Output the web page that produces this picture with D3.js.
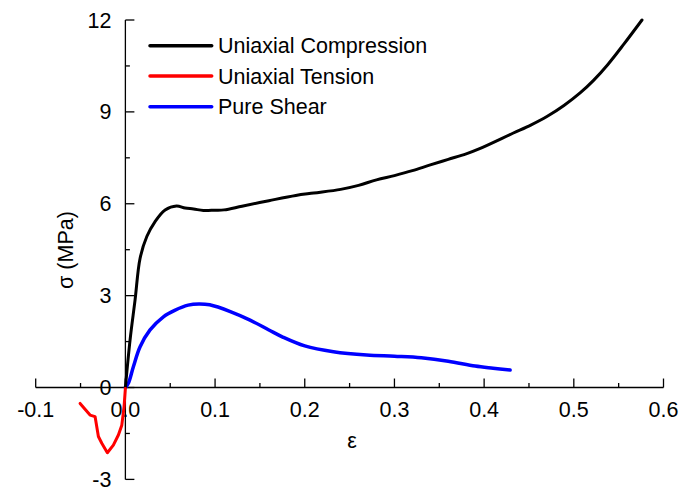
<!DOCTYPE html>
<html><head><meta charset="utf-8">
<script src="https://cdn.jsdelivr.net/npm/d3@7"></script>
<style>html,body{margin:0;padding:0;background:#fff;}svg{display:block;}</style>
</head><body>
<svg id="c" width="695" height="493"></svg>
<script>
const compStrain = [0, 0.0052, 0.0108, 0.0164, 0.0239, 0.0331, 0.0443, 0.057, 0.0666, 0.076, 0.087, 0.1, 0.11, 0.13, 0.16, 0.19, 0.21, 0.24, 0.26, 0.28, 0.30, 0.32, 0.34, 0.36, 0.38, 0.395, 0.4326, 0.452, 0.47, 0.489, 0.507, 0.522, 0.538, 0.556, 0.576];
const compStress = [0, 1.55, 2.86, 4.22, 4.93, 5.42, 5.8, 5.93, 5.86, 5.83, 5.78, 5.79, 5.80, 5.92, 6.1, 6.27, 6.35, 6.47, 6.6, 6.78, 6.92, 7.08, 7.27, 7.45, 7.63, 7.8, 8.31, 8.57, 8.85, 9.21, 9.62, 10.03, 10.55, 11.22, 12.0];
const tensStrain = [-0.0505, -0.0394, -0.0338, -0.0301, -0.0263, -0.0201, -0.0134, -0.0078, -0.004, -0.0015, 0];
const tensStress = [-0.52, -0.90, -0.95, -1.60, -1.82, -2.13, -1.88, -1.55, -1.23, -0.63, -0.03];
const shearStrain = [0, 0.0033, 0.0089, 0.0164, 0.0275, 0.0424, 0.055, 0.07, 0.082, 0.094, 0.117, 0.139, 0.16, 0.176, 0.2, 0.232, 0.269, 0.3, 0.33, 0.36, 0.39, 0.41, 0.429];
const shearStress = [0, 0.14, 0.68, 1.33, 1.88, 2.31, 2.52, 2.69, 2.73, 2.70, 2.48, 2.2, 1.88, 1.64, 1.36, 1.17, 1.06, 1.02, 0.97, 0.86, 0.7, 0.63, 0.57];
const seriesNames = ["Uniaxial Compression", "Uniaxial Tension", "Pure Shear"];
const seriesColors = ["#000000", "#ff0000", "#0000ff"];
const xTickValues = [-0.1, 0, 0.1, 0.2, 0.3, 0.4, 0.5, 0.6];
const xTickLabels = ["-0.1", "0.0", "0.1", "0.2", "0.3", "0.4", "0.5", "0.6"];
const yTickValues = [-3, 0, 3, 6, 9, 12];
const yTickLabels = ["-3", "0", "3", "6", "9", "12"];
const xMinorTicks = [-0.05, 0.05, 0.15, 0.25, 0.35, 0.45, 0.55];
const yMinorTicks = [-1.5, 1.5, 4.5, 7.5, 10.5];

const FONT = "'Liberation Sans', Arial, sans-serif";
const FS = 21.5;
const svg = d3.select("#c");
const x = d3.scaleLinear().domain([-0.1, 0.6]).range([35.7, 663.5]);
const y = d3.scaleLinear().domain([-3, 12]).range([479.4, 20]);

const g = svg.append("g");
const xAxisY = y(0);
g.append("line").attr("x1", x(-0.1)).attr("x2", x(0.6)).attr("y1", xAxisY).attr("y2", xAxisY)
  .attr("stroke", "#000").attr("stroke-width", 1.3);
xTickValues.forEach(v => g.append("line").attr("x1", x(v)).attr("x2", x(v)).attr("y1", xAxisY).attr("y2", xAxisY - 9).attr("stroke", "#000").attr("stroke-width", 1.3));
xMinorTicks.forEach(v => g.append("line").attr("x1", x(v)).attr("x2", x(v)).attr("y1", xAxisY).attr("y2", xAxisY - 4.5).attr("stroke", "#000").attr("stroke-width", 1.3));
const yAxisX = x(0);
g.append("line").attr("x1", yAxisX).attr("x2", yAxisX).attr("y1", y(-3)).attr("y2", y(12))
  .attr("stroke", "#000").attr("stroke-width", 1.3);
yTickValues.forEach(v => g.append("line").attr("x1", yAxisX).attr("x2", yAxisX + 9).attr("y1", y(v)).attr("y2", y(v)).attr("stroke", "#000").attr("stroke-width", 1.3));
yMinorTicks.forEach(v => g.append("line").attr("x1", yAxisX).attr("x2", yAxisX + 4.5).attr("y1", y(v)).attr("y2", y(v)).attr("stroke", "#000").attr("stroke-width", 1.3));

const mk = (xs, ys) => xs.map((v, i) => [v, ys[i]]);
const lineSmooth = d3.line().x(d => x(d[0])).y(d => y(d[1])).curve(d3.curveCatmullRom.alpha(0.5));
const lineLin = d3.line().x(d => x(d[0])).y(d => y(d[1]));
g.append("path").attr("d", lineSmooth(mk(shearStrain, shearStress))).attr("fill", "none").attr("stroke", seriesColors[2]).attr("stroke-width", 3.5).attr("stroke-linejoin", "round").attr("stroke-linecap", "round");
g.append("path").attr("d", lineSmooth(mk(compStrain, compStress))).attr("fill", "none").attr("stroke", seriesColors[0]).attr("stroke-width", 3).attr("stroke-linejoin", "round").attr("stroke-linecap", "round");
g.append("path").attr("d", lineLin(mk(tensStrain, tensStress))).attr("fill", "none").attr("stroke", seriesColors[1]).attr("stroke-width", 3).attr("stroke-linejoin", "round").attr("stroke-linecap", "round");

xTickValues.forEach((v, i) => g.append("text").attr("x", x(v)).attr("y", xAxisY + 22).attr("dy", "0.35em")
  .attr("text-anchor", "middle").attr("font-family", FONT).attr("font-size", FS).attr("fill", "#000").text(xTickLabels[i]));
yTickValues.forEach((v, i) => g.append("text").attr("x", yAxisX - 14).attr("y", y(v)).attr("dy", "0.35em")
  .attr("text-anchor", "end").attr("font-family", FONT).attr("font-size", FS).attr("fill", "#000").text(yTickLabels[i]));

g.append("text").attr("transform", `translate(65,250) rotate(-90)`).attr("dy", "0.35em").attr("text-anchor", "middle")
  .attr("font-family", FONT).attr("font-size", FS).attr("fill", "#000").text("σ (MPa)");
g.append("text").attr("x", 352).attr("y", 440).attr("dy", "0.35em").attr("text-anchor", "middle")
  .attr("font-family", FONT).attr("font-size", FS).attr("fill", "#000").text("ε");

const legY = [45.7, 76, 106.7];
seriesNames.forEach((n, i) => {
  g.append("line").attr("x1", 150).attr("x2", 211.7).attr("y1", legY[i]).attr("y2", legY[i])
    .attr("stroke", seriesColors[i]).attr("stroke-width", 3.5).attr("stroke-linecap", "round");
  g.append("text").attr("x", 218).attr("y", legY[i]).attr("dy", "0.35em").attr("font-family", FONT)
    .attr("font-size", FS).attr("fill", "#000").text(n);
});
</script>
</body></html>
